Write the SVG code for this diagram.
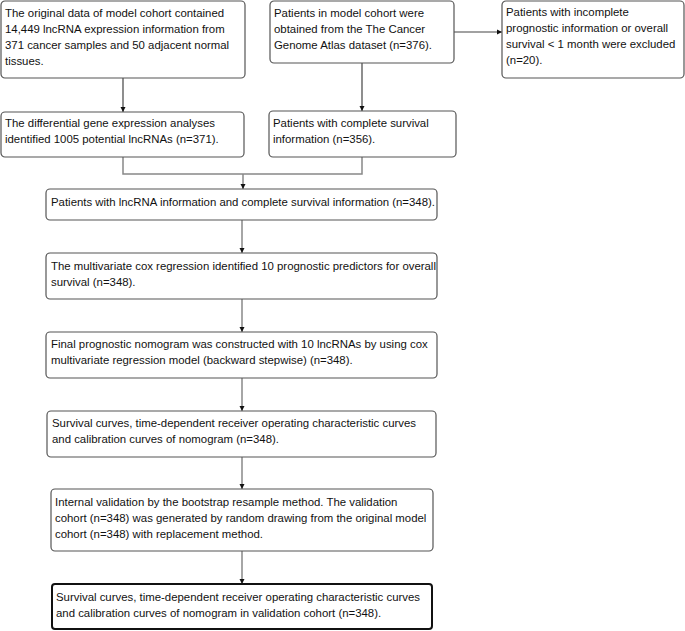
<svg xmlns="http://www.w3.org/2000/svg" width="685" height="631" viewBox="0 0 685 631">
<defs>
<style>
.box{fill:#fff;stroke:#555;stroke-width:1.2}
.bold{fill:#fff;stroke:#111;stroke-width:2}
text{font-family:"Liberation Sans",Arial,sans-serif;font-size:11.4px;fill:#111}
.c{fill:none;stroke:#444;stroke-width:1.2}
.g{fill:none;stroke:#888;stroke-width:1.5}
</style>
<marker id="ah" markerWidth="6" markerHeight="6" refX="5" refY="3" orient="auto" markerUnits="userSpaceOnUse">
<path d="M0,0.5 L5,3 L0,5.5 Z" fill="#111"/>
</marker>
</defs>
<g id="connectors">
<line class="c" x1="123" y1="78" x2="123" y2="112" marker-end="url(#ah)"/>
<line class="c" x1="362" y1="63" x2="362" y2="111" marker-end="url(#ah)"/>
<line class="c" x1="454" y1="32" x2="502" y2="32" marker-end="url(#ah)"/>
<polyline class="g" points="123,157 123,174 362,174 362,157"/>
<line class="g" x1="243" y1="174" x2="243" y2="189" marker-end="url(#ah)"/>
<line class="g" x1="242" y1="220" x2="242" y2="253" marker-end="url(#ah)"/>
<line class="g" x1="242" y1="299" x2="242" y2="332" marker-end="url(#ah)"/>
<line class="g" x1="242" y1="378" x2="242" y2="411" marker-end="url(#ah)"/>
<line class="g" x1="242" y1="457" x2="242" y2="489" marker-end="url(#ah)"/>
<line class="g" x1="242" y1="551" x2="242" y2="584" marker-end="url(#ah)"/>
</g>
<g id="n1"><rect class="box" x="1" y="1" width="244" height="77" rx="4"/>
<text x="5" y="17">The original data of model cohort contained</text>
<text x="5" y="33">14,449 lncRNA expression information from</text>
<text x="5" y="49">371 cancer samples and 50 adjacent normal</text>
<text x="5" y="65">tissues.</text></g>
<g id="n2"><rect class="box" x="1" y="112" width="243" height="45" rx="4"/>
<text x="5" y="127">The differential gene expression analyses</text>
<text x="5" y="143">identified 1005 potential lncRNAs (n=371).</text></g>
<g id="n3"><rect class="box" x="270" y="1" width="184" height="62" rx="4"/>
<text x="274" y="17">Patients in model cohort were</text>
<text x="274" y="33">obtained from the The Cancer</text>
<text x="274" y="49">Genome Atlas dataset (n=376).</text></g>
<g id="n4"><rect class="box" x="269" y="111" width="187" height="46" rx="4"/>
<text x="273" y="127">Patients with complete survival</text>
<text x="273" y="143">information (n=356).</text></g>
<g id="n5"><rect class="box" x="502" y="1" width="182" height="77" rx="4"/>
<text x="506" y="16">Patients with incomplete</text>
<text x="506" y="32">prognostic information or overall</text>
<text x="506" y="48">survival &lt; 1 month were excluded</text>
<text x="506" y="64">(n=20).</text></g>
<g id="n6"><rect class="box" x="46" y="189" width="391" height="31" rx="4"/>
<text x="51" y="206">Patients with lncRNA information and complete survival information (n=348).</text></g>
<g id="n7"><rect class="box" x="46" y="253" width="391" height="46" rx="4"/>
<text x="51" y="270">The multivariate cox regression identified 10 prognostic predictors for overall</text>
<text x="51" y="286">survival (n=348).</text></g>
<g id="n8"><rect class="box" x="46" y="332" width="391" height="46" rx="4"/>
<text x="51" y="348">Final prognostic nomogram was constructed with 10 lncRNAs by using cox</text>
<text x="51" y="364">multivariate regression model (backward stepwise) (n=348).</text></g>
<g id="n9"><rect class="box" x="47" y="411" width="389" height="46" rx="4"/>
<text x="52" y="427">Survival curves, time-dependent receiver operating characteristic curves</text>
<text x="52" y="443">and calibration curves of nomogram (n=348).</text></g>
<g id="n10"><rect class="box" x="51" y="489" width="382" height="62" rx="4"/>
<text x="55" y="506">Internal validation by the bootstrap resample method. The validation</text>
<text x="55" y="522">cohort (n=348) was generated by random drawing from the original model</text>
<text x="55" y="538">cohort (n=348) with replacement method.</text></g>
<g id="n11"><rect class="bold" x="52" y="584" width="380" height="45" rx="3"/>
<text x="56" y="601">Survival curves, time-dependent receiver operating characteristic curves</text>
<text x="56" y="617">and calibration curves of nomogram in validation cohort (n=348).</text></g>
</svg>
